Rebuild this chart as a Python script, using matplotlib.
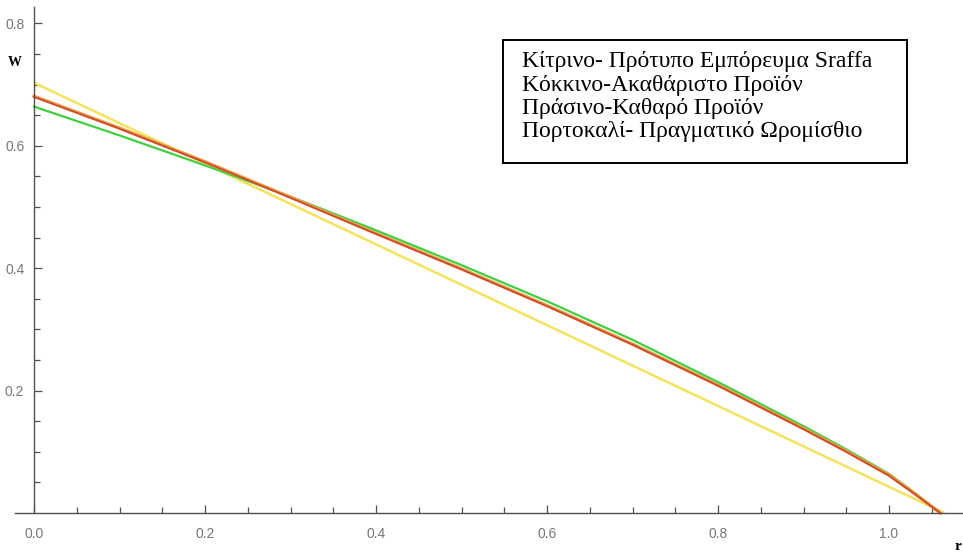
import numpy as np
import matplotlib.pyplot as plt
from matplotlib.ticker import FixedLocator
from matplotlib.patches import Rectangle

# Profit rate r and wage w along each wage-profit curve
r_vals = [0.0, 0.1, 0.2, 0.3, 0.4, 0.5, 0.6, 0.7, 0.8, 0.9, 0.95, 1.0, 1.03, 1.06]
w_gross = [0.680, 0.628, 0.573, 0.515, 0.456, 0.398, 0.338, 0.275, 0.208, 0.137, 0.100, 0.061, 0.031, 0.0]
w_net = [0.664, 0.617, 0.568, 0.517, 0.462, 0.405, 0.346, 0.283, 0.214, 0.142, 0.104, 0.064, 0.033, 0.0]
w_real = [0.681, 0.629, 0.574, 0.516, 0.457, 0.399, 0.339, 0.276, 0.209, 0.138, 0.101, 0.062, 0.032, 0.0]
# Standard commodity: straight line between the intercepts
r_std = [0.0, 1.065]
w_std = [0.703, 0.0]

legend_lines = [
    "Κίτρινο- Πρότυπο Εμπόρευμα Sraffa",
    "Κόκκινο-Ακαθάριστο Προϊόν",
    "Πράσινο-Καθαρό Προϊόν",
    "Πορτοκαλί- Πραγματικό Ωρομίσθιο",
]

W, H = 963, 554
fig = plt.figure(figsize=(W / 100, H / 100), dpi=100)
ax = fig.add_axes([0, 0, 1, 1])

# pixel layout: origin at (34, 513), 855 px per unit in r, 612 px per unit in w
ax.set_xlim(-34 / 855, (W - 34) / 855)
ax.set_ylim(-(H - 513) / 612, 513 / 612)

ax.plot(r_std, w_std, color="#f3e35e", lw=1.8, solid_capstyle="butt")
ax.plot(r_vals, w_net, color="#3fcf3f", lw=1.6)
ax.plot(r_vals, w_real, color="#f0a040", lw=2.4)
ax.plot(r_vals, w_gross, color="#c94a35", lw=1.3)

# Mathematica-style axes through the origin
for side in ["top", "right"]:
    ax.spines[side].set_visible(False)
for side in ["left", "bottom"]:
    ax.spines[side].set_position(("data", 0))
    ax.spines[side].set_color("#505050")
    ax.spines[side].set_linewidth(1.0)
ax.spines["left"].set_bounds(0, 0.826)
ax.spines["bottom"].set_bounds(-0.022, 1.09)

ax.xaxis.set_major_locator(FixedLocator([0.0, 0.2, 0.4, 0.6, 0.8, 1.0]))
ax.xaxis.set_minor_locator(FixedLocator(np.arange(0.05, 1.08, 0.05)))
ax.yaxis.set_major_locator(FixedLocator([0.2, 0.4, 0.6, 0.8]))
ax.yaxis.set_minor_locator(FixedLocator(np.arange(0.05, 0.81, 0.05)))
ax.set_xticklabels(["0.0", "0.2", "0.4", "0.6", "0.8", "1.0"])
ax.set_yticklabels(["0.2", "0.4", "0.6", "0.8"])
ax.tick_params(which="both", direction="in", color="#505050", width=0.9,
               labelcolor="#777777", labelsize=10)
ax.tick_params(which="major", length=6)
ax.tick_params(which="minor", length=4)
ax.tick_params(axis="x", pad=10)
ax.tick_params(axis="y", pad=7)
for lab in ax.get_xticklabels() + ax.get_yticklabels():
    lab.set_family("Liberation Sans")

ax.text(15 / W, 1 - 62 / H, "W", transform=fig.transFigure, ha="center",
        va="center", family="Liberation Serif", fontweight="bold", fontsize=10)
ax.text(958 / W, 1 - 547 / H, "r", transform=fig.transFigure, ha="center",
        va="center", family="Liberation Serif", fontweight="bold", fontsize=11)

# legend box with the colour key
box = Rectangle((503 / W, 1 - 163 / H), (907 - 503) / W, (163 - 40) / H,
                transform=fig.transFigure, facecolor="white", edgecolor="black",
                lw=1.4, zorder=5)
fig.patches.append(box)
baselines = [67, 91, 114, 137]
for text, yb in zip(legend_lines, baselines):
    fig.text(522 / W, 1 - yb / H, text, ha="left", va="baseline",
             family="Liberation Serif", fontsize=17, color="black", zorder=6)

fig.savefig("out.png", dpi=100, facecolor="white")
